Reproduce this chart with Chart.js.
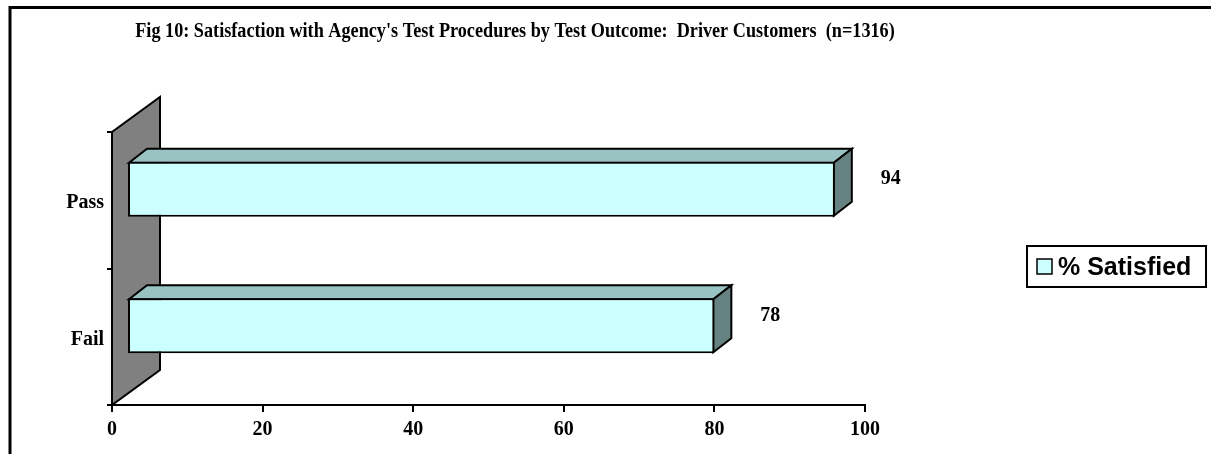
<!DOCTYPE html>
<html><head><meta charset="utf-8">
<script src="https://cdn.jsdelivr.net/npm/chart.js@4"></script>
<style>html,body{margin:0;padding:0;background:#fff;overflow:hidden}</style>
</head><body>
<canvas id="c" width="1211" height="454"></canvas>
<script>
const titleText = "Fig 10: Satisfaction with Agency's Test Procedures by Test Outcome:  Driver Customers  (n=1316)";
const categories = ['Pass', 'Fail'];
const seriesLabel = '% Satisfied';
const satisfied = [94, 78];
const xTickValues = [0, 20, 40, 60, 80, 100];

const SERIF = '"Liberation Serif", "Times New Roman", serif';
const SANS = '"Liberation Sans", Arial, sans-serif';
const FRONT = '#CCFFFF', TOP = '#99C3C3', SIDE = '#668282', WALL = '#808080';
const SHIFT = {x: 15, y: -11};     // bar depth position
const BAR3D = {x: 18, y: -14};     // bar depth
const WALL3D = {x: 48, y: -35};    // wall depth

const deco = {
  id: 'deco',
  beforeDraw(chart) {
    const ctx = chart.ctx;
    ctx.save();
    ctx.fillStyle = '#fff';
    ctx.fillRect(0, 0, chart.width, chart.height);
    ctx.strokeStyle = '#000';
    ctx.lineWidth = 3;
    ctx.beginPath();
    ctx.moveTo(10, chart.height + 2);
    ctx.lineTo(10, 7.5);
    ctx.lineTo(chart.width + 2, 7.5);
    ctx.stroke();
    ctx.restore();
  },
  beforeDatasetsDraw(chart) {
    const ctx = chart.ctx, xs = chart.scales.x, ys = chart.scales.y;
    const x0 = xs.getPixelForValue(0);
    ctx.save();
    ctx.lineJoin = 'miter';
    ctx.strokeStyle = '#000';
    ctx.lineWidth = 2;
    ctx.fillStyle = WALL;
    ctx.beginPath();
    ctx.moveTo(x0, ys.bottom);
    ctx.lineTo(x0, ys.top);
    ctx.lineTo(x0 + WALL3D.x, ys.top + WALL3D.y);
    ctx.lineTo(x0 + WALL3D.x, ys.bottom + WALL3D.y);
    ctx.closePath();
    ctx.fill();
    ctx.stroke();
    ctx.restore();

    ctx.save();
    ctx.translate(SHIFT.x, SHIFT.y);
    const meta = chart.getDatasetMeta(0);
    ctx.lineWidth = 2;
    ctx.strokeStyle = '#000';
    ctx.lineJoin = 'miter';
    meta.data.forEach(el => {
      const p = el.getProps(['x', 'y', 'base', 'height'], true);
      const yt = p.y - p.height / 2 + 1, yb = p.y + p.height / 2 - 1;
      const xl = p.base + 1, xr = p.x - 1;
      ctx.fillStyle = TOP;
      ctx.beginPath();
      ctx.moveTo(xl, yt);
      ctx.lineTo(xl + BAR3D.x, yt + BAR3D.y);
      ctx.lineTo(xr + BAR3D.x, yt + BAR3D.y);
      ctx.lineTo(xr, yt);
      ctx.closePath();
      ctx.fill(); ctx.stroke();
      ctx.fillStyle = SIDE;
      ctx.beginPath();
      ctx.moveTo(xr, yt);
      ctx.lineTo(xr + BAR3D.x, yt + BAR3D.y);
      ctx.lineTo(xr + BAR3D.x, yb + BAR3D.y);
      ctx.lineTo(xr, yb);
      ctx.closePath();
      ctx.fill(); ctx.stroke();
    });
  },
  afterDatasetsDraw(chart) {
    const ctx = chart.ctx;
    ctx.restore();
    ctx.save();
    // value labels
    const meta = chart.getDatasetMeta(0);
    ctx.fillStyle = '#000';
    ctx.font = 'bold 20px ' + SERIF;
    ctx.textAlign = 'center';
    ctx.textBaseline = 'middle';
    meta.data.forEach((el, i) => {
      const p = el.getProps(['x', 'y'], true);
      ctx.fillText(String(chart.data.datasets[0].data[i]), p.x + 71, p.y - 21);
    });
    // title (slightly condensed, as in the original)
    ctx.save();
    ctx.font = 'bold 20px ' + SERIF;
    ctx.textAlign = 'center';
    ctx.textBaseline = 'alphabetic';
    ctx.translate(515, 37);
    ctx.scale(0.91, 1);
    ctx.fillText(titleText, 0, 0);
    ctx.restore();
    // legend
    const ds = chart.data.datasets[0];
    ctx.lineWidth = 2;
    ctx.strokeStyle = '#000';
    ctx.strokeRect(1027, 246, 179, 41);
    ctx.fillStyle = ds.backgroundColor;
    ctx.fillRect(1037, 259, 15, 15);
    ctx.lineWidth = 1.5;
    ctx.strokeRect(1037, 259, 15, 15);
    ctx.fillStyle = '#000';
    ctx.font = 'bold 25px ' + SANS;
    ctx.textAlign = 'left';
    ctx.textBaseline = 'alphabetic';
    ctx.fillText(ds.label, 1058, 275);
    ctx.restore();
  }
};

new Chart(document.getElementById('c'), {
  type: 'bar',
  data: {
    labels: categories,
    datasets: [{
      label: seriesLabel,
      data: satisfied,
      backgroundColor: FRONT,
      borderColor: '#000',
      borderWidth: 2,
      borderSkipped: false,
      categoryPercentage: 1,
      barPercentage: 0.403,
      clip: false
    }]
  },
  options: {
    indexAxis: 'y',
    responsive: false,
    devicePixelRatio: 1,
    animation: false,
    layout: {padding: {left: 0, right: 346, top: 132, bottom: 0}},
    plugins: {legend: {display: false}, title: {display: false}, tooltip: {enabled: false}},
    scales: {
      x: {
        min: 0, max: 100,
        afterBuildTicks(scale) { scale.ticks = xTickValues.map(v => ({value: v})); },
        afterFit(scale) { scale.height = 49; },
        grid: {drawOnChartArea: false, drawTicks: true, tickLength: 7, color: '#000', lineWidth: 2},
        border: {display: true, color: '#000', width: 2},
        ticks: {color: '#000', padding: 6, font: {family: SERIF, size: 20, weight: 'bold'}}
      },
      y: {
        afterFit(scale) { scale.width = 112; },
        grid: {drawOnChartArea: false, drawTicks: true, tickLength: 5, color: '#000', lineWidth: 2, offset: true},
        border: {display: true, color: '#000', width: 2},
        ticks: {color: '#000', padding: 3, labelOffset: 3, font: {family: SERIF, size: 20, weight: 'bold'}}
      }
    }
  },
  plugins: [deco]
});
</script>
</body></html>
